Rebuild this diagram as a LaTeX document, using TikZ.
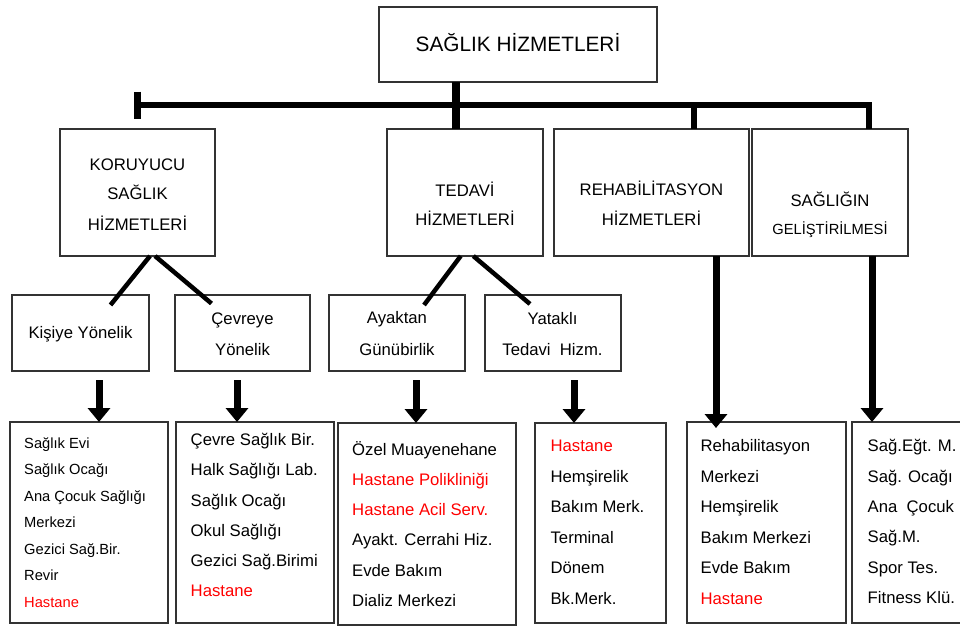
\documentclass[tikz,border=0pt]{standalone}
\usepackage{fontspec}
\setmainfont{Liberation Sans}
\usetikzlibrary{arrows.meta,positioning}
\definecolor{hastred}{RGB}{255,0,0}
\tikzset{
  box/.style={draw=black!80, line width=1.3pt, inner sep=0pt, outer sep=0pt},
  captext/.style={anchor=base, inner sep=0pt, font=\fontsize{16.7}{20}\selectfont},
  listitem/.style={anchor=base west, inner sep=0pt, font=\fontsize{16.7}{20}\selectfont},
  link/.style={line width=4.5pt},
  mainbar/.style={line width=6.5pt, line join=miter},
  arr/.style={line width=7pt, -{Triangle[width=22pt,length=14pt]}},
}
\begin{document}
\begin{tikzpicture}[x=1pt,y=-1pt]
\useasboundingbox (0,0) rectangle (960,626);
% boxes
\node[box, minimum width=278, minimum height=75] (top) at (518,44.5) {};
\node[box, minimum width=155, minimum height=127] (kor) at (137.5,192.5) {};
\node[box, minimum width=156, minimum height=127] (ted) at (465,192.5) {};
\node[box, minimum width=195, minimum height=127] (reh) at (651.5,192.5) {};
\node[box, minimum width=156, minimum height=127] (gel) at (830,192.5) {};
\node[box, minimum width=137, minimum height=76] (kis) at (80.5,333) {};
\node[box, minimum width=135, minimum height=76] (cev) at (242.5,333) {};
\node[box, minimum width=136, minimum height=76] (aya) at (397,333) {};
\node[box, minimum width=136, minimum height=76] (yat) at (553,333) {};
\node[box, minimum width=158, minimum height=201] (l1) at (89,522.5) {};
\node[box, minimum width=158, minimum height=201] (l2) at (255,522.5) {};
\node[box, minimum width=178, minimum height=202] (l3) at (427,524) {};
\node[box, minimum width=131, minimum height=200] (l4) at (600.5,523) {};
\node[box, minimum width=159, minimum height=201] (l5) at (766.5,522.5) {};
\node[box, minimum width=116, minimum height=201] (l6) at (910,522.5) {};
% captions
\node[captext, font=\fontsize{20.8}{24}\selectfont] (topt) at (518,51.7) {SAĞLIK HİZMETLERİ};
\node[captext] (kor1) at (137.5,170) {KORUYUCU};
\node[captext] (kor2) at (137.5,199) {SAĞLIK};
\node[captext] (kor3) at (137.5,230) {HİZMETLERİ};
\node[captext] (ted1) at (465,196) {TEDAVİ};
\node[captext] (ted2) at (465,225) {HİZMETLERİ};
\node[captext] (reh1) at (651.5,195.3) {REHABİLİTASYON};
\node[captext] (reh2) at (651.5,225) {HİZMETLERİ};
\node[captext] (gel1) at (830,206) {SAĞLIĞIN};
\node[captext, font=\fontsize{14.7}{18}\selectfont] (gel2) at (830,234) {GELİŞTİRİLMESİ};
\node[captext] (kis1) at (80.5,338.3) {Kişiye Yönelik};
\node[captext] (cev1) at (242.5,324) {Çevreye};
\node[captext] (cev2) at (242.5,355) {Yönelik};
\node[captext] (aya1) at (397,323.5) {Ayaktan};
\node[captext] (aya2) at (397,355) {Günübirlik};
\node[captext] (yat1) at (552.5,324) {Yataklı};
\node[captext] (yat2) at (552.5,355) {Tedavi\ \ Hizm.};
% lists
\foreach \t [count=\i from 0] in {Sağlık Evi, Sağlık Ocağı, Ana Çocuk Sağlığı,
    Merkezi, Gezici Sağ.Bir., Revir, {\color{hastred}Hastane}}
  \node[listitem, font=\fontsize{14.7}{18}\selectfont] (a\i) at (24,448+26.5*\i) {\t};
\foreach \t [count=\i from 0] in {Çevre Sağlık Bir., Halk Sağlığı Lab., Sağlık Ocağı,
    Okul Sağlığı, Gezici Sağ.Birimi, {\color{hastred}Hastane}}
  \node[listitem] (b\i) at (190.5,445.7+30.2*\i) {\t};
\foreach \t [count=\i from 0] in {Özel Muayenehane, {\color{hastred}Hastane Polikliniği},
    {\color{hastred}Hastane Acil Serv.}, Ayakt. Cerrahi Hiz., Evde Bakım, Dializ Merkezi}
  \node[listitem] (c\i) at (352,455+30.3*\i) {\t};
\foreach \t [count=\i from 0] in {{\color{hastred}Hastane}, Hemşirelik, Bakım Merk.,
    Terminal, Dönem, Bk.Merk.}
  \node[listitem] (d\i) at (550.4,451.7+30.5*\i) {\t};
\foreach \t [count=\i from 0] in {Rehabilitasyon, Merkezi, Hemşirelik, Bakım Merkezi,
    Evde Bakım, {\color{hastred}Hastane}}
  \node[listitem] (e\i) at (700.4,451.7+30.5*\i) {\t};
\foreach \t [count=\i from 0] in {Sağ.Eğt. M., Sağ. Ocağı, Ana\ \ Çocuk, Sağ.M.,
    Spor Tes., Fitness Klü.}
  \node[listitem] (f\i) at (867.5,451.7+30.4*\i) {\t};
% main bar
\coordinate (stem) at (456,105);
\coordinate (tickl) at (137.5,105);
\coordinate (tickr) at (869,105);
\coordinate (rehb) at (694,105);
\draw[line width=8pt] (top.south -| stem) -- (ted.north -| stem);
\draw[mainbar] (tickl) -- (tickr) -- (gel.north -| tickr);
\draw[mainbar] (rehb) -- (reh.north -| rehb);
\draw[line width=7pt] ([yshift=13.5pt]tickl) -- ([yshift=-13.5pt]tickl);
% branches
\draw[link] ([xshift=12.5pt]kor.south) -- ([xshift=30pt,yshift=-10pt]kis.north);
\draw[link] ([xshift=17.5pt]kor.south) -- ([xshift=-31pt,yshift=-8.5pt]cev.north);
\draw[link] ([xshift=-4.3pt]ted.south) -- ([xshift=27pt,yshift=-10pt]aya.north);
\draw[link] ([xshift=8.3pt]ted.south) -- ([xshift=-23pt,yshift=-9pt]yat.north);
% arrows
\coordinate (kisa) at (99,380);
\coordinate (ceva) at (237,380);
\coordinate (ayaa) at (416,380);
\coordinate (yata) at (574,380);
\coordinate (reha) at (716,428);
\coordinate (gela) at (872,422);
\draw[arr] (kisa) -- (kisa |- l1.north);
\draw[arr] (ceva) -- (ceva |- l2.north);
\draw[arr] (ayaa) -- (ayaa |- l3.north);
\draw[arr] (yata) -- (yata |- l4.north);
\draw[arr] (reh.south -| reha) -- (reha);
\draw[arr] (gel.south -| gela) -- (gela);
\end{tikzpicture}
\end{document}
